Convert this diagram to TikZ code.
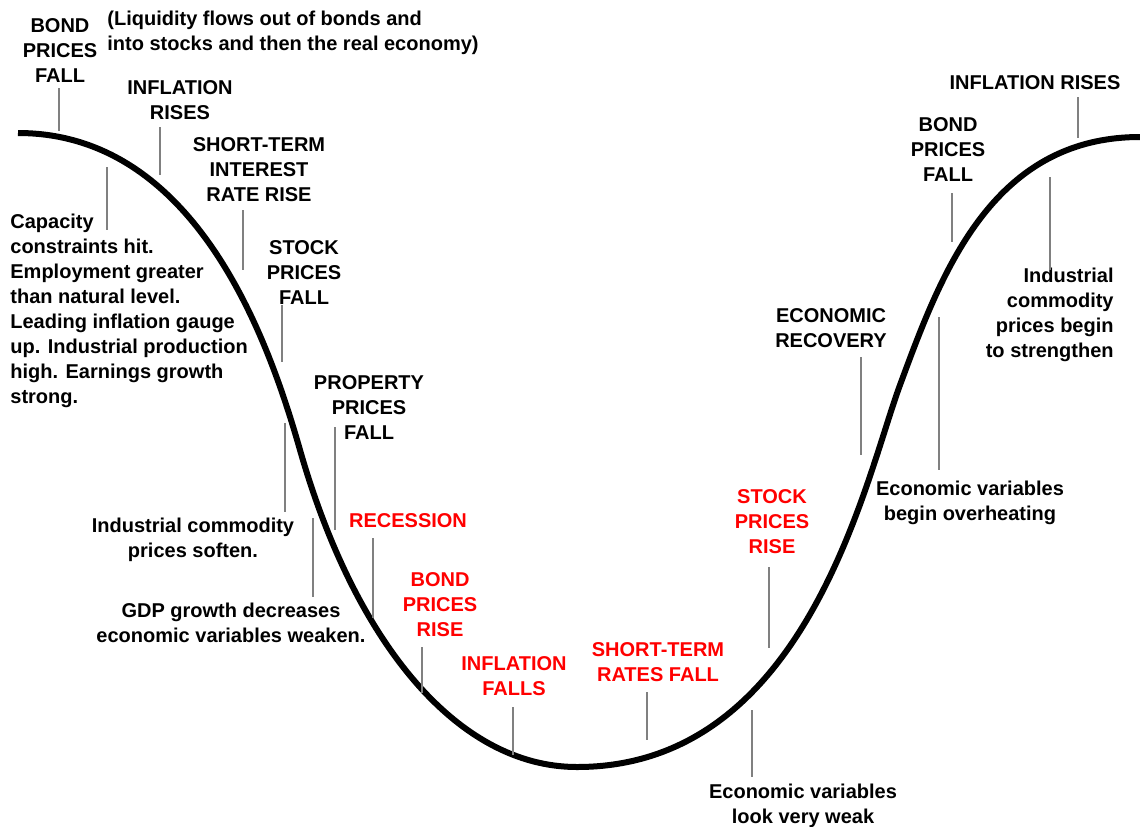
\documentclass[tikz,border=0pt]{standalone}
\usepackage{fontspec}
\setmainfont{Liberation Sans}
\begin{document}
\begin{tikzpicture}[x=0.5pt,y=-0.5pt,
  lbl/.style={font=\bfseries\fontsize{10}{12.5}\selectfont, align=center, inner sep=0pt, anchor=north},
  rlbl/.style={lbl, text=red},
  tick/.style={draw=black!50, line width=1pt},
  curve/.style={line width=3pt}]
\useasboundingbox (0,0) rectangle (1140,826);
% curve
\coordinate (c0) at (18,133);
\coordinate (c1) at (300,450);
\coordinate (c2) at (577,767);
\coordinate (c3) at (900,385);
\coordinate (c4) at (1140,137);
\draw[curve] (c0) .. controls (198,133) and (270,345) .. (c1)
  .. controls (355,642) and (457,767) .. (c2)
  .. controls (807,767) and (865,479.5) .. (c3)
  .. controls (940,277) and (990,137) .. (c4);
% labels
\node[lbl] (bpf1) at (60,18) {BOND\\PRICES\\FALL};
\node[lbl, anchor=north west, align=left] (liq) at (107,11) {(Liquidity flows out of bonds and\\into stocks and then the real economy)};
\node[lbl] (ir1) at (180,80) {INFLATION\\RISES};
\node[lbl] (stir) at (259,137) {SHORT-TERM\\INTEREST\\RATE RISE};
\node[lbl, anchor=north west, align=left] (cap) at (10,214) {Capacity\\constraints hit.\\Employment greater\\than natural level.\\Leading inflation gauge\\up. Industrial production\\high. Earnings growth\\strong.};
\node[lbl] (spf) at (304,240) {STOCK\\PRICES\\FALL};
\node[lbl] (ppf) at (369,375) {PROPERTY\\PRICES\\FALL};
\node[lbl] (ics) at (193,518) {Industrial commodity\\prices soften.};
\node[lbl] (gdp) at (231,603) {GDP growth decreases\\economic variables weaken.};
\node[rlbl] (rec) at (408,513) {RECESSION};
\node[rlbl] (bpr) at (440,572) {BOND\\PRICES\\RISE};
\node[rlbl] (inff) at (514,656) {INFLATION\\FALLS};
\node[rlbl] (strf) at (658,642) {SHORT-TERM\\RATES FALL};
\node[lbl] (evw) at (803,784) {Economic variables\\look very weak};
\node[rlbl] (spr) at (772,489) {STOCK\\PRICES\\RISE};
\node[lbl] (er) at (831,308) {ECONOMIC\\RECOVERY};
\node[lbl] (evo) at (970,481) {Economic variables\\begin overheating};
\node[lbl] (bpf2) at (948,117) {BOND\\PRICES\\FALL};
\node[lbl] (ir2) at (1035,75) {INFLATION RISES};
\node[lbl, anchor=north east, align=right] (icb) at (1114,268) {Industrial\\commodity\\prices begin\\to strengthen};
% tick ends
\coordinate (t1a) at (59,88);   \coordinate (t1b) at (59,131);
\coordinate (t2a) at (160,127); \coordinate (t2b) at (160,175);
\coordinate (t3a) at (107,167); \coordinate (t3b) at (107,230);
\coordinate (t4a) at (243,210); \coordinate (t4b) at (243,270);
\coordinate (t5a) at (282,305); \coordinate (t5b) at (282,362);
\coordinate (t6a) at (335,427); \coordinate (t6b) at (335,530);
\coordinate (t7a) at (285,423); \coordinate (t7b) at (285,512);
\coordinate (t8a) at (313,518); \coordinate (t8b) at (313,597);
\coordinate (t9a) at (373,538); \coordinate (t9b) at (373,618);
\coordinate (t10a) at (422,647); \coordinate (t10b) at (422,693);
\coordinate (t11a) at (513,707); \coordinate (t11b) at (513,755);
\coordinate (t12a) at (647,692); \coordinate (t12b) at (647,740);
\coordinate (t13a) at (752,710); \coordinate (t13b) at (752,777);
\coordinate (t14a) at (769,567); \coordinate (t14b) at (769,648);
\coordinate (t15a) at (861,357); \coordinate (t15b) at (861,455);
\coordinate (t16a) at (939,317); \coordinate (t16b) at (939,470);
\coordinate (t17a) at (952,193); \coordinate (t17b) at (952,242);
\coordinate (t18a) at (1078,97); \coordinate (t18b) at (1078,138);
\coordinate (t19a) at (1050,177); \coordinate (t19b) at (1050,270);
\foreach \i in {1,...,19} {\draw[tick] (t\i a) -- (t\i b);}
\end{tikzpicture}
\end{document}
